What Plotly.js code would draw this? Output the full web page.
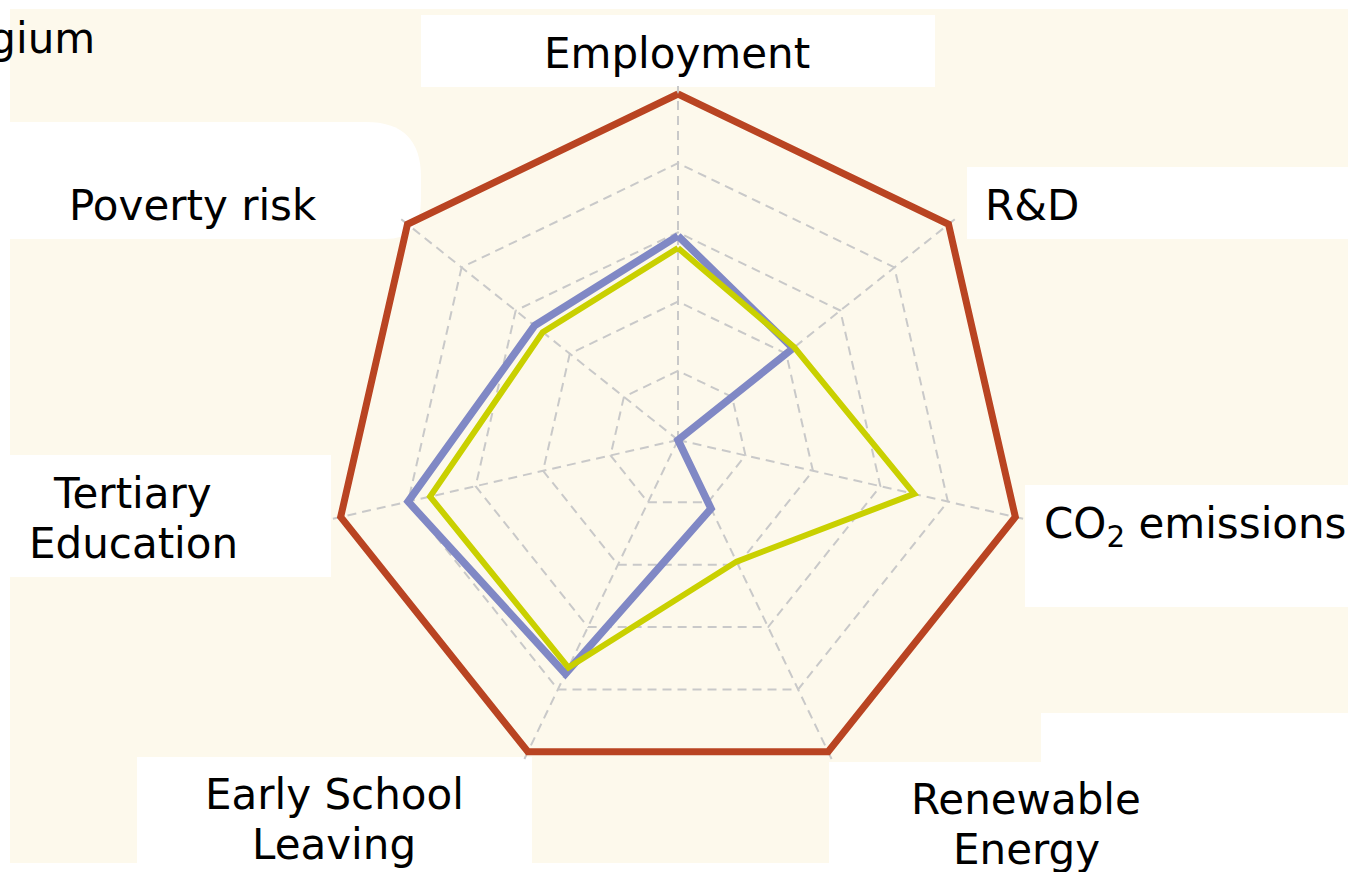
<!DOCTYPE html>
<html>
<head>
<meta charset="utf-8">
<script src="https://cdn.plot.ly/plotly-3.0.1.min.js"></script>
<style>html,body{margin:0;padding:0;background:#fff;}#chart{width:1348px;height:872px;}</style>
</head>
<body>
<div id="chart"></div>
<script>
// Axis categories (clockwise from top)
const categories = ["Employment", "R&D", "CO2 emissions", "Renewable Energy", "Early School Leaving", "Tertiary Education", "Poverty risk"];
// Series values (0 = worst, 1 = target)
const belgiumValues = [0.59, 0.425, 0.0, 0.22, 0.75, 0.80, 0.53];
const euValues      = [0.555, 0.43, 0.70, 0.39, 0.73, 0.735, 0.50];
const targetValues  = [1, 1, 1, 1, 1, 1, 1];
// Radial grid levels
const gridLevels = [0.2, 0.4, 0.6, 0.8, 1.0];

const W = 1348, H = 872;
const px = x => x / W;
const py = y => 1 - y / H;
const close = a => a.concat([a[0]]);

function trace(vals, name, color, width) {
  return {
    type: 'scatterpolar', mode: 'lines', name: name,
    r: close(vals), theta: close(categories),
    line: {color: color, width: width},
    hoverinfo: 'skip', showlegend: false, cliponaxis: false
  };
}

const data = [
  trace(belgiumValues, 'Belgium', '#8088c5', 7.5),
  trace(euValues, 'EU', '#c9d000', 6),
  trace(targetValues, 'Target', '#b94422', 7)
];

const font = {family: 'DejaVu Sans, Verdana, sans-serif', size: 42, color: '#000'};
function label(text, cx, cy, anchor) {
  return {text: text, xref: 'paper', yref: 'paper', x: px(cx), y: py(cy),
          xanchor: anchor || 'center', yanchor: 'middle', showarrow: false, font: font};
}

const cream = '#fdf9ec';
function rect(x0, y0, x1, y1, color) {
  return {type: 'rect', xref: 'paper', yref: 'paper', x0: px(x0), x1: px(x1), y0: py(y1), y1: py(y0),
          fillcolor: color, line: {width: 0}, layer: 'below'};
}
function pathShape(pts, color) {
  return {type: 'path', xref: 'paper', yref: 'paper', path: pts, fillcolor: color, line: {width: 0}, layer: 'below'};
}
function pp(x, y) { return px(x) + ',' + py(y); }
const povertyPath = 'M' + pp(10,122) + ' L' + pp(366,122) + ' Q' + pp(421,122) + ' ' + pp(421,177) +
  ' L' + pp(421,200) + ' Q' + pp(421,239) + ' ' + pp(385,239) + ' L' + pp(10,239) + ' Z';
const renewPath = 'M' + pp(1041,713) + ' L' + pp(1348,713) + ' L' + pp(1348,872) + ' L' + pp(829,872) +
  ' L' + pp(829,762) + ' L' + pp(1041,762) + ' Z';

// polar centre (678,440), radius of value 1 = 346 px; range padded so outer line is not clipped
const rMax = 1.03;
const R = 346 * rMax, CX = 678, CY = 440;

const layout = {
  width: W, height: H,
  margin: {l: 0, r: 0, t: 0, b: 0},
  paper_bgcolor: '#ffffff',
  showlegend: false,
  polar: {
    domain: {x: [px(CX - R), px(CX + R)], y: [py(CY + R), py(CY - R)]},
    bgcolor: 'rgba(0,0,0,0)',
    gridshape: 'linear',
    radialaxis: {range: [0, rMax], tickvals: gridLevels, showticklabels: false, ticks: '',
                 showline: false, gridcolor: '#c9c9c9', gridwidth: 2, griddash: '9px,6px'},
    angularaxis: {direction: 'clockwise', rotation: 90, showticklabels: false, ticks: '',
                  showline: false, gridcolor: '#c9c9c9', gridwidth: 2, griddash: '9px,6px'}
  },
  shapes: [
    rect(10, 9, 1348, 863, cream),
    rect(421, 15, 935, 87, '#ffffff'),
    rect(967, 167, 1348, 239, '#ffffff'),
    pathShape(povertyPath, '#ffffff'),
    rect(10, 455, 331, 577, '#ffffff'),
    rect(1025, 485, 1348, 607, '#ffffff'),
    pathShape(renewPath, '#ffffff'),
    rect(137, 757, 532, 872, '#ffffff'),
    rect(0, 863, 1348, 872, '#ffffff')
  ],
  annotations: [
    label('Belgium', 97, 38, 'right'),
    label('Employment', 677, 53),
    label('R&amp;D', 1032, 206),
    label('CO<sub>2</sub> emissions', 1195, 526),
    label('Renewable', 1026, 799),
    label('Energy', 1026, 849),
    label('Early School', 334, 794),
    label('Leaving', 334, 844),
    label('Tertiary', 132, 493),
    label('Education', 133, 543),
    label('Poverty risk', 193, 206)
  ]
};

Plotly.newPlot('chart', data, layout, {staticPlot: true, displayModeBar: false});
</script>
</body>
</html>
